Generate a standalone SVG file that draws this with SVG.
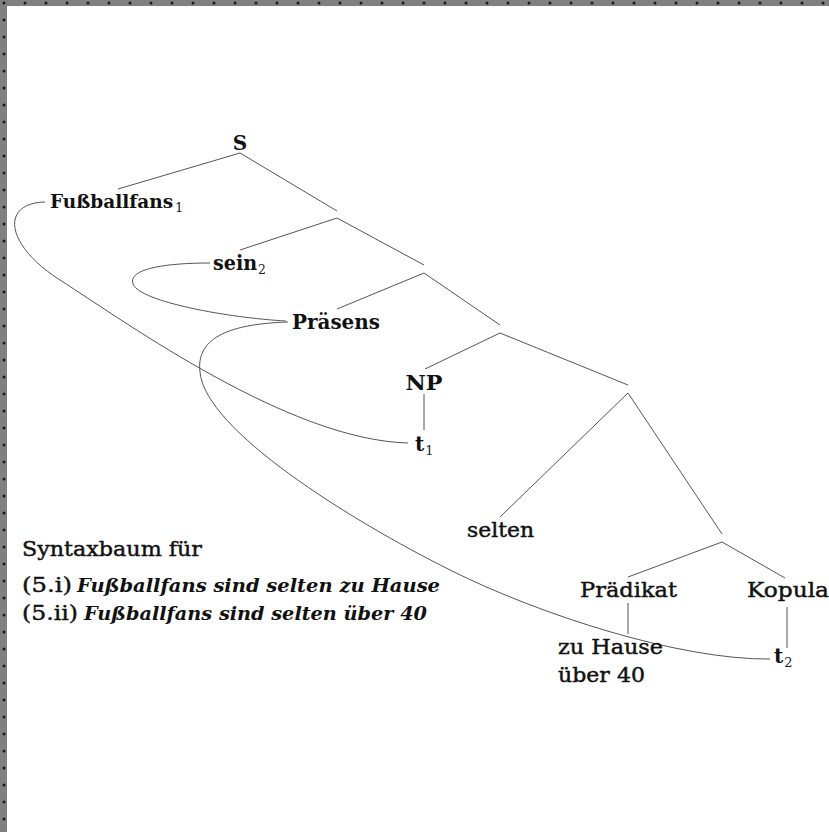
<svg xmlns="http://www.w3.org/2000/svg" width="829" height="832" viewBox="0 0 829 832">
<style>
.b{font-family:"DejaVu Serif",serif;font-weight:bold;font-size:20px;fill:#111}
.r{font-family:"DejaVu Serif",serif;font-size:21px;fill:#111;stroke:#111;stroke-width:0.45}
.s{font-size:13px;font-weight:normal;fill:#222}
.bi{font-family:"DejaVu Serif",serif;font-weight:bold;font-style:italic;font-size:19px;fill:#111}
.e{stroke:#555;stroke-width:1;fill:none}
</style>
<defs>
<pattern id="dots" width="21" height="17" patternUnits="userSpaceOnUse">
<rect width="21" height="17" fill="#808080"/>
<circle cx="4" cy="3" r="1.5" fill="#1a1a1a"/>
<circle cx="14" cy="11" r="1.4" fill="#1a1a1a"/>
<circle cx="9" cy="15" r="1" fill="#2a2a2a"/>
</pattern>
</defs>
<rect width="829" height="832" fill="#fff"/>
<rect x="0" y="0" width="829" height="6" fill="url(#dots)"/>
<rect x="0" y="0" width="7" height="832" fill="url(#dots)"/>

<g id="connectors">
<line class="e" x1="240" y1="153" x2="118" y2="189"/>
<line class="e" x1="240" y1="153" x2="337" y2="211"/>
<line class="e" x1="337" y1="218" x2="240" y2="250"/>
<line class="e" x1="337" y1="218" x2="424" y2="265"/>
<line class="e" x1="424" y1="273" x2="337" y2="309"/>
<line class="e" x1="424" y1="273" x2="500" y2="325"/>
<line class="e" x1="500" y1="333" x2="425" y2="369"/>
<line class="e" x1="500" y1="333" x2="628" y2="385"/>
<line class="e" x1="628" y1="393" x2="500" y2="517"/>
<line class="e" x1="628" y1="393" x2="722" y2="534"/>
<line class="e" x1="722" y1="542" x2="628" y2="577"/>
<line class="e" x1="722" y1="542" x2="785" y2="578"/>
<line class="e" x1="424" y1="394" x2="424" y2="430"/>
<line class="e" x1="628" y1="603" x2="628" y2="634"/>
<line class="e" x1="787" y1="607" x2="787" y2="648"/>
<path class="e" d="M45,202 C0,203 5,245 60,280 C130,325 290,440 408,443"/>
<path class="e" d="M210,263 C160,263 128,270 133,284 C140,302 230,318 286,321"/>
<path class="e" d="M288,322 C225,324 196,340 200,372 C205,430 350,520 450,570 C540,615 680,660 770,659"/>
</g>

<g id="n-S"><text class="b" x="240" y="150" text-anchor="middle">S</text></g>
<g id="n-fussballfans"><text class="b" x="50" y="208" style="font-size:18.5px">Fußballfans<tspan class="s" dx="2" dy="4">1</tspan></text></g>
<g id="n-sein"><text class="b" x="213" y="270" textLength="53" lengthAdjust="spacingAndGlyphs">sein<tspan class="s" dx="1" dy="4">2</tspan></text></g>
<g id="n-praesens"><text class="b" x="292" y="329" textLength="88" lengthAdjust="spacingAndGlyphs">Präsens</text></g>
<g id="n-NP"><text class="b" x="424" y="390" text-anchor="middle" textLength="37" lengthAdjust="spacingAndGlyphs">NP</text></g>
<g id="n-t1"><text class="b" x="415" y="451">t<tspan class="s" dx="1" dy="4">1</tspan></text></g>
<g id="n-selten"><text class="r" x="467" y="537" textLength="67" lengthAdjust="spacingAndGlyphs">selten</text></g>
<g id="n-praedikat"><text class="r" x="580" y="597" textLength="97" lengthAdjust="spacingAndGlyphs">Prädikat</text></g>
<g id="n-kopula"><text class="r" x="747" y="597" textLength="82" lengthAdjust="spacingAndGlyphs">Kopula</text></g>
<g id="n-zuhause"><text class="r" x="558" y="654" textLength="105" lengthAdjust="spacingAndGlyphs">zu Hause</text><text class="r" x="558" y="682" textLength="87" lengthAdjust="spacingAndGlyphs">über 40</text></g>
<g id="n-t2"><text class="b" x="774" y="663">t<tspan class="s" dx="1" dy="4">2</tspan></text></g>

<g id="caption">
<text class="r" x="22" y="556" textLength="180" lengthAdjust="spacingAndGlyphs">Syntaxbaum für</text>
<text class="r" x="22" y="592" textLength="50" lengthAdjust="spacingAndGlyphs">(5.i)</text>
<text class="bi" x="77" y="592" textLength="363" lengthAdjust="spacingAndGlyphs">Fußballfans sind selten zu Hause</text>
<text class="r" x="22" y="620" textLength="56" lengthAdjust="spacingAndGlyphs">(5.ii)</text>
<text class="bi" x="84" y="620" textLength="343" lengthAdjust="spacingAndGlyphs">Fußballfans sind selten über 40</text>
</g>
</svg>
